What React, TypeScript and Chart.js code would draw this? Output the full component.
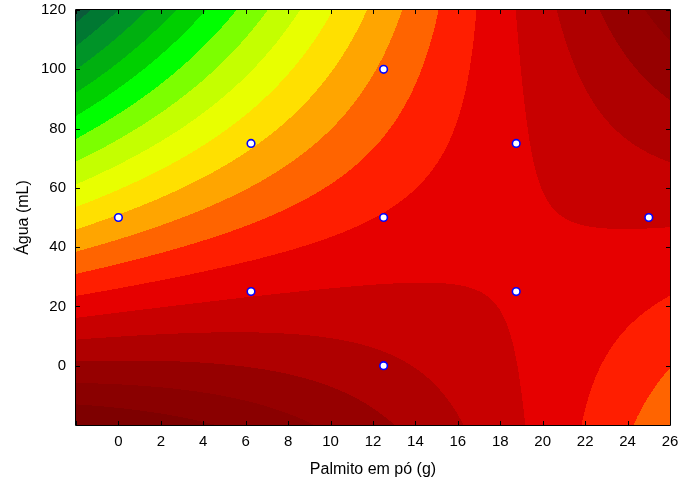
import React, { useEffect, useRef } from "react";
import { Chart, registerables } from "chart.js";

Chart.register(...registerables);

// Axis ranges / ticks
const xTicks = [-2, 0, 2, 4, 6, 8, 10, 12, 14, 16, 18, 20, 22, 24, 26];
const yTicks = [-20, 0, 20, 40, 60, 80, 100, 120];

// Experimental design points (Palmito em pó (g), Água (mL))
const designX = [0, 6.25, 6.25, 12.5, 12.5, 12.5, 18.75, 18.75, 25];
const designY = [50, 25, 75, 0, 50, 100, 25, 75, 50];

// Fitted quadratic response surface (in contour-level units):
// b0, bX, bY, bXX, bYY, bXY
const surfaceCoef = [16.216, -0.005, -0.1245, -0.006, 0.00005, 0.00632];

// Contour level boundaries and fill colours (low -> high)
const levelBreaks = [1, 2, 3, 4, 5, 6, 7, 8, 9, 10, 11, 12, 13, 14, 15, 16, 17, 18];
const levelColors = [
  "#0B5A3A", "#007832", "#009428", "#00B010", "#00D000", "#00FF00",
  "#7CFF00", "#C4FF00", "#E8FF00", "#FFE000", "#FFA500", "#FF6400",
  "#FF1E00", "#E60000", "#C80000", "#AF0000", "#960000", "#8A0000", "#7E0000",
];

const FONT = "'Liberation Sans', Arial, sans-serif";

function surface(u: number, v: number): number {
  const [b0, b1, b2, b11, b22, b12] = surfaceCoef;
  return b0 + b1 * u + b2 * v + b11 * u * u + b22 * v * v + b12 * u * v;
}

const contourPlugin = {
  id: "contourFill",
  beforeDatasetsDraw(chart: any) {
    const { ctx, chartArea, scales } = chart;
    const xs = scales.x;
    const ys = scales.y;
    const l = Math.round(chartArea.left);
    const t = Math.round(chartArea.top);
    const w = Math.round(chartArea.right) - l;
    const h = Math.round(chartArea.bottom) - t;
    const off = document.createElement("canvas");
    off.width = w;
    off.height = h;
    const octx = off.getContext("2d")!;
    const img = octx.createImageData(w, h);
    const rgb = levelColors.map((c) => [
      parseInt(c.slice(1, 3), 16),
      parseInt(c.slice(3, 5), 16),
      parseInt(c.slice(5, 7), 16),
    ]);
    for (let j = 0; j < h; j++) {
      const v = ys.getValueForPixel(t + j + 0.5);
      for (let i = 0; i < w; i++) {
        const u = xs.getValueForPixel(l + i + 0.5);
        const z = surface(u, v);
        let k = 0;
        while (k < levelBreaks.length && z >= levelBreaks[k]) k++;
        const c = rgb[k];
        const p = (j * w + i) * 4;
        img.data[p] = c[0];
        img.data[p + 1] = c[1];
        img.data[p + 2] = c[2];
        img.data[p + 3] = 255;
      }
    }
    octx.putImageData(img, 0, 0);
    ctx.save();
    ctx.drawImage(off, l, t);
    ctx.restore();
  },
  afterDraw(chart: any) {
    const { ctx, chartArea, scales } = chart;
    const l = Math.round(chartArea.left);
    const t = Math.round(chartArea.top);
    const r = Math.round(chartArea.right);
    const b = Math.round(chartArea.bottom);
    ctx.save();
    ctx.strokeStyle = "#000";
    ctx.lineWidth = 1;
    ctx.beginPath();
    ctx.rect(l - 0.5, t - 0.5, r - l + 1, b - t + 1);
    ctx.stroke();
    const len = 4;
    ctx.beginPath();
    xTicks.forEach((val) => {
      const px = Math.round(scales.x.getPixelForValue(val)) + 0.5;
      ctx.moveTo(px, t);
      ctx.lineTo(px, t + len);
      ctx.moveTo(px, b);
      ctx.lineTo(px, b - len);
    });
    yTicks.forEach((val) => {
      const py = Math.round(scales.y.getPixelForValue(val)) + 0.5;
      ctx.moveTo(l, py);
      ctx.lineTo(l + len, py);
      ctx.moveTo(r, py);
      ctx.lineTo(r - len, py);
    });
    ctx.stroke();
    ctx.restore();
  },
};

export default function App() {
  const ref = useRef<HTMLCanvasElement | null>(null);
  useEffect(() => {
    document.body.style.margin = "0";
    const canvas = ref.current!;
    const chart = new Chart(canvas, {
      type: "scatter",
      data: {
        datasets: [
          {
            label: "Pontos",
            data: designX.map((x, i) => ({ x, y: designY[i] })),
            pointStyle: "circle",
            pointRadius: 3.8,
            pointBorderWidth: 1.6,
            pointBorderColor: "#0000FF",
            pointBackgroundColor: "#FFFFFF",
            showLine: false,
          },
        ],
      },
      options: {
        animation: false,
        responsive: false,
        devicePixelRatio: 1,
        layout: { padding: { top: 10, right: 11, left: 0, bottom: 0 } },
        plugins: { legend: { display: false }, tooltip: { enabled: false } },
        scales: {
          x: {
            type: "linear",
            min: -2,
            max: 26,
            afterFit: (s: any) => {
              s.height = 54;
              s.paddingLeft = 0;
              s.paddingRight = 0;
            },
            afterBuildTicks: (s: any) => {
              s.ticks = xTicks.map((value) => ({ value }));
            },
            grid: { display: false, drawTicks: false, tickLength: 0 },
            border: { display: false },
            ticks: {
              autoSkip: false,
              maxRotation: 0,
              padding: 8,
              color: "#000",
              font: { family: FONT, size: 15 },
              callback: (v: any) => (v === -2 ? "" : String(v)),
            },
            title: {
              display: true,
              text: "Palmito em pó (g)",
              color: "#000",
              font: { family: FONT, size: 16 },
              padding: { top: 2, bottom: 0 },
            },
          },
          y: {
            type: "linear",
            min: -20,
            max: 120,
            afterFit: (s: any) => {
              s.width = 76;
              s.paddingTop = 0;
              s.paddingBottom = 0;
            },
            afterBuildTicks: (s: any) => {
              s.ticks = yTicks.map((value) => ({ value }));
            },
            grid: { display: false, drawTicks: false, tickLength: 0 },
            border: { display: false },
            ticks: {
              autoSkip: false,
              padding: 10,
              color: "#000",
              font: { family: FONT, size: 15 },
              callback: (v: any) => (v === -20 ? "" : String(v)),
            },
            title: {
              display: true,
              text: "Água (mL)",
              color: "#000",
              font: { family: FONT, size: 16 },
              padding: { top: 14, bottom: 0 },
            },
          },
        },
      },
      plugins: [contourPlugin],
    });
    return () => chart.destroy();
  }, []);
  return (
    <div style={{ width: 681, height: 479, background: "#fff" }}>
      <canvas ref={ref} width={681} height={479} style={{ display: "block" }} />
    </div>
  );
}
